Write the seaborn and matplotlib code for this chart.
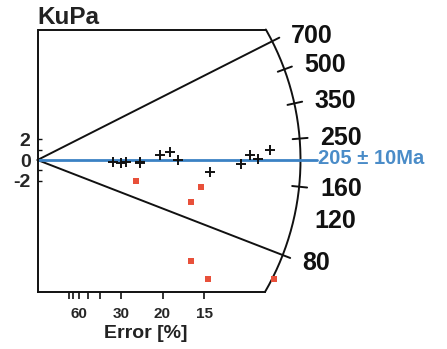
import numpy as np
import matplotlib
matplotlib.use("Agg")
import matplotlib.pyplot as plt
import seaborn as sns
import pandas as pd

# ---------------- data ----------------
sample = "KuPa"
central_age = 205
central_err = 10
# accepted grains: precision (1 / relative error) and standardised estimate
black_prec = [3.01, 3.35, 3.55, 4.08, 4.08, 4.88, 5.28, 5.61, 6.88, 8.15, 8.48, 8.81, 9.28]
black_z = [-0.17, -0.32, -0.22, -0.32, -0.17, 0.49, 0.81, 0.00, -1.14, -0.39, 0.49, 0.07, 0.97]
# rejected grains (red squares)
red_prec = [3.95, 6.53, 6.12, 6.12, 6.81, 9.45]
red_z = [-2.01, -2.62, -4.11, -9.78, -11.58, -11.58]
age_labels = [700, 500, 350, 250, 160, 120, 80]
age_tick_marks = [500, 350, 250, 160]
age_lines = [700, 80]
err_major = [60, 30, 20, 15]
err_minor = [80, 70, 50, 40]
y_major = [-2, 0, 2]
y_minor = [-1, 1]

# ---------------- layout (pixel scales) ----------------
W, H, DPI = 447, 349, 100
PX_X, PX_Y = 25.0, 10.3          # pixels per precision unit / per z unit
OX, OY = 37.5, 160.0             # origin in pixels
R = 263.0                        # arc radius in pixels
TOP_PX, BOT_PX = 130.5, 132.0    # frame top / bottom distance from origin

sns.set_style("white")
plt.rcParams["font.family"] = ["Liberation Sans", "DejaVu Sans"]
plt.rcParams["axes.unicode_minus"] = False

fig = plt.figure(figsize=(W / DPI, H / DPI), dpi=DPI)
ax = fig.add_axes([0, 0, 1, 1])
ax.set_xlim(-OX / PX_X, (W - OX) / PX_X)
ax.set_ylim((OY - H) / PX_Y, OY / PX_Y)


def polar(r, th):
    return r * np.cos(th) / PX_X, r * np.sin(th) / PX_Y


def theta(age):
    return np.arctan(np.log(age / central_age) * PX_Y / PX_X)


K = "#111111"
LW = 1.4
y_top = TOP_PX / PX_Y
y_bot = -BOT_PX / PX_Y
th_top = np.arcsin(TOP_PX / R)
th_bot = -np.arcsin(BOT_PX / R)

# spines as the frame's left and bottom sides
for s in ["top", "right"]:
    ax.spines[s].set_visible(False)
ax.spines["left"].set_position(("data", 0))
ax.spines["left"].set_bounds(y_bot, y_top)
ax.spines["bottom"].set_position(("data", y_bot))
ax.spines["bottom"].set_bounds(0, polar(R, th_bot)[0])
for s in ["left", "bottom"]:
    ax.spines[s].set_linewidth(LW)
    ax.spines[s].set_color(K)

# top side and arc
x_top = polar(R, th_top)[0]
ax.plot([0, x_top], [y_top, y_top], color=K, lw=LW, solid_capstyle="butt")
th = np.linspace(th_bot, th_top, 200)
ax.plot(*polar(R, th), color=K, lw=LW)

# radial lines
for a in age_lines:
    t = theta(a)
    ax.plot(*polar(np.array([0, R + 8]), np.array([t, t])), color=K, lw=LW)
for a in age_tick_marks:
    t = theta(a)
    ax.plot(*polar(np.array([R - 7, R + 8]), np.array([t, t])), color=K, lw=LW)

# central age line
blue = "#3b82c4"
ax.plot(*polar(np.array([0, R + 16]), np.array([0.0, 0.0])), color=blue, lw=2.0)
bx, by = polar(R + 17, 0.0)
ax.text(bx, by + 0.15, f"{central_age} \u00b1 {central_err}Ma", color="#4a8cc8",
        fontsize=14.5, fontweight="bold", ha="left", va="center")

# age labels
for a in age_labels:
    t = theta(a)
    lx, ly = polar(284, t)
    ly -= max(t, 0) * 0.9  # upper labels sit slightly lower
    ax.text(lx, ly, str(a), fontsize=18, fontweight="bold", ha="left",
            va="center", color=K)

# points
df_b = pd.DataFrame({"prec": black_prec, "z": black_z})
df_r = pd.DataFrame({"prec": red_prec, "z": red_z})
sns.scatterplot(data=df_b, x="prec", y="z", marker="+", s=55, color=K,
                linewidth=1.4, ax=ax, zorder=5)
sns.scatterplot(data=df_r, x="prec", y="z", marker="s", s=16, color="#e8503a",
                linewidth=0, ax=ax, zorder=5)

# y ticks
ax.set_yticks(y_major)
ax.set_yticklabels([str(v) for v in y_major])
ax.set_yticks(y_minor, minor=True)
ax.tick_params(axis="y", which="both", direction="in", length=3, width=1.0,
               left=True, color=K, pad=5)
for lab in ax.get_yticklabels():
    lab.set_fontsize(14)
    lab.set_fontweight("bold")

# x ticks (error %)
ax.set_xticks([100.0 / e for e in err_major])
ax.set_xticklabels([str(e) for e in err_major])
ax.set_xticks([100.0 / e for e in err_minor], minor=True)
ax.tick_params(axis="x", which="both", direction="out", length=5, width=1.2,
               bottom=True, color=K, pad=6)
for lab in ax.get_xticklabels():
    lab.set_fontsize(11)
    lab.set_fontweight("bold")
ax.set_xlabel("")
ax.set_ylabel("")

fig.text(146 / W, 1 - 333 / H, "Error [%]", fontsize=14, fontweight="bold",
         ha="center", va="center", color="#222222")
fig.text(37 / W, 1 - 18 / H, sample, fontsize=17.5, fontweight="bold",
         ha="left", va="center", color="#222222")

fig.savefig("out.png", dpi=DPI)
